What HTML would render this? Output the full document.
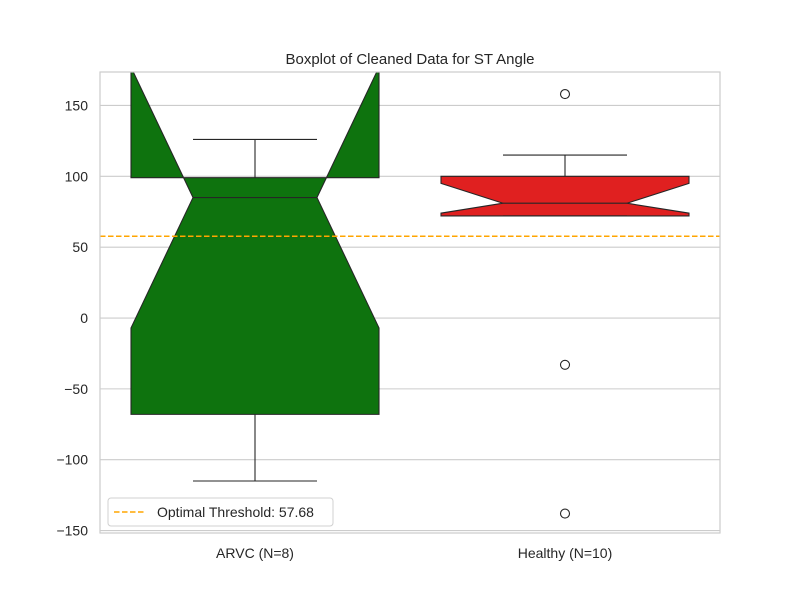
<!DOCTYPE html>
<html><head><meta charset="utf-8"><style>
body{margin:0;background:#fff;}
svg text{font-family:"Liberation Sans","DejaVu Sans",sans-serif;}
</style></head><body>
<svg id="chart" width="800" height="600" xmlns="http://www.w3.org/2000/svg">
<defs><clipPath id="clip"><rect x="100" y="72" width="620" height="461"/></clipPath></defs>
<rect x="0" y="0" width="800" height="600" fill="#fff"/>
<text x="410" y="64" text-anchor="middle" font-size="15" fill="#262626">Boxplot of Cleaned Data for ST Angle</text>
<g id="grid"></g>
<g id="marks" clip-path="url(#clip)"></g>
<rect x="100" y="72" width="620" height="461" fill="none" stroke="#cccccc" stroke-width="1.2"/>
<g id="ticks"></g>
<g>
<rect x="108" y="498" width="225" height="28" rx="3" fill="#fff" fill-opacity="0.8" stroke="#d0d0d0"/>
<line x1="114" y1="512" x2="146" y2="512" stroke="#ffa500" stroke-width="1.5" stroke-dasharray="5.5,2.5"/>
<text x="157" y="517" font-size="14" fill="#262626">Optimal Threshold: 57.68</text>
</g>
</svg>
<script>
const categories=["ARVC (N=8)","Healthy (N=10)"];
const q1=[-68,72];
const q3=[99,100];
const medians=[85,81];
const notchLow=[-7,74];
const notchHigh=[177,95];
const whiskerLow=[-115,72];
const whiskerHigh=[126,115];
const outliers=[[],[158,-33,-138]];
const colors=["#0e730e","#e02020"];
const yTicks=[-150,-100,-50,0,50,100,150];
const threshold=57.68;
const yMin=-151.7,yMax=173.6;
const NS="http://www.w3.org/2000/svg";
function y(v){return 533-(v-yMin)/(yMax-yMin)*461;}
function xc(i){return 100+620*(i+0.5)/categories.length;}
function mk(tag,attrs,parent){const e=document.createElementNS(NS,tag);for(const k in attrs)e.setAttribute(k,attrs[k]);parent.appendChild(e);return e;}
const grid=document.getElementById('grid'),marks=document.getElementById('marks'),ticks=document.getElementById('ticks');
yTicks.forEach(t=>{
 const l=mk('line',{x1:100,x2:720,y1:y(t),y2:y(t),stroke:'#cccccc','stroke-width':1.1},grid);
 
 
 const tx=mk('text',{x:88,y:y(t)+5,'text-anchor':'end','font-size':14,fill:'#262626'},ticks);
 tx.textContent=String(t).replace('-','\u2212');
 
 
});
categories.forEach((c,i)=>{
 const cx=xc(i),hw=124,nw=62;
 const tx=mk('text',{x:cx,y:558,'text-anchor':'middle','font-size':14,fill:'#262626'},ticks);
 tx.textContent=c;
 
 
 const L=cx-hw,R=cx+hw;
 const pts=[[L,y(q1[i])],[L,y(notchLow[i])],[cx-nw,y(medians[i])],[L,y(notchHigh[i])],[L,y(q3[i])],[R,y(q3[i])],[R,y(notchHigh[i])],[cx+nw,y(medians[i])],[R,y(notchLow[i])],[R,y(q1[i])]];
 const p=mk('polygon',{points:pts.map(p=>p.join(',')).join(' '),fill:colors[i],stroke:'#262626','stroke-width':1.1},marks);
 
 
 const m=mk('line',{x1:cx-nw,x2:cx+nw,y1:y(medians[i]),y2:y(medians[i]),stroke:'#262626','stroke-width':1.1},marks);
 
 
 [[whiskerHigh[i],q3[i]],[whiskerLow[i],q1[i]]].forEach(([w,q])=>{
  const wl=mk('line',{x1:cx,x2:cx,y1:y(w),y2:y(q),stroke:'#262626','stroke-width':1.1},marks);
  
  
  const cp=mk('line',{x1:cx-hw/2,x2:cx+hw/2,y1:y(w),y2:y(w),stroke:'#262626','stroke-width':1.1},marks);
  
  
 });
 outliers[i].forEach(o=>{
  const ci=mk('circle',{cx:cx,cy:y(o),r:4.5,fill:'none',stroke:'#262626','stroke-width':1.1},marks);
  
  
 });
});
const th=mk('line',{x1:100,x2:720,y1:y(threshold),y2:y(threshold),stroke:'#ffa500','stroke-width':1.5,'stroke-dasharray':'5.5,2.5'},marks);


</script>
</body></html>
